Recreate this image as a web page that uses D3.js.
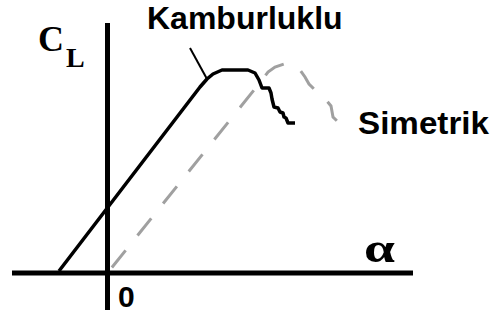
<!DOCTYPE html>
<html>
<head>
<meta charset="utf-8">
<script src="https://cdn.jsdelivr.net/npm/d3@7"></script>
<style>
    body { margin: 0; background: #fff; }
    svg { display: block; }
    .lbl { font-family: "Liberation Sans", Arial, sans-serif; font-weight: bold; fill: #000; }
    .sym { font-family: "Liberation Serif", "Times New Roman", serif; font-weight: bold; fill: #000; }
</style>
</head>
<body>
<div id="chart"></div>
<script>
// curve data: angle of attack (deg) vs lift coefficient
const cambAlpha = [-4.85, 9.25, 9.95, 10.55, 11.45, 14.05, 14.75, 15.15, 15.45, 16.15, 16.35, 16.45, 16.65, 17.05, 17.25, 17.55, 17.65, 17.85, 18.05, 18.75];
const cambCL    = [0.02, 1.86, 1.94, 1.99, 2.03, 2.03, 2.00, 1.93, 1.85, 1.85, 1.80, 1.74, 1.66, 1.65, 1.61, 1.60, 1.56, 1.55, 1.50, 1.50];

const symAlpha = [0, 15.45, 16.05, 16.75, 17.65, 18.55, 19.25, 19.75, 20.15, 20.65, 21.25, 21.85, 22.35, 22.55, 22.95, 23.45];
const symCL    = [0, 1.93, 2.01, 2.06, 2.09, 2.07, 2.03, 1.96, 1.89, 1.84, 1.78, 1.73, 1.67, 1.56, 1.52, 1.48];

const seriesNames = ["Kamburluklu", "Simetrik"];
const xAxisLabel = "\u03b1";
const yAxisLabel = "C";
const yAxisSub = "L";
const originLabel = "0";

let width = 492, height = 322;

let svg = d3.select("#chart").append("svg")
    .attr("width", width)
    .attr("height", height);

// scales (origin sits at 107.5, 273)
let x = d3.scaleLinear().domain([-10, 30]).range([7.5, 407.5]);
let y = d3.scaleLinear().domain([0, 2.5]).range([273, 23]);

let line = d3.line()
    .x(d => x(d[0]))
    .y(d => y(d[1]));

let cambered = cambAlpha.map((a, i) => [a, cambCL[i]]);
let symmetric = symAlpha.map((a, i) => [a, symCL[i]]);

// axes
svg.append("line")
    .attr("x1", x(-9.55)).attr("x2", x(30.55))
    .attr("y1", y(0)).attr("y2", y(0))
    .attr("stroke", "#000").attr("stroke-width", 5);

svg.append("line")
    .attr("x1", x(0)).attr("x2", x(0))
    .attr("y1", y(2.5)).attr("y2", y(-0.37))
    .attr("stroke", "#000").attr("stroke-width", 5);

// symmetric airfoil - grey dashed
svg.append("path")
    .datum(symmetric)
    .attr("fill", "none")
    .attr("stroke", "#a0a0a0")
    .attr("stroke-width", 3)
    .attr("stroke-dasharray", "22,19")
    .attr("stroke-dashoffset", -7)
    .attr("d", line);

// cambered airfoil - black
svg.append("path")
    .datum(cambered)
    .attr("fill", "none")
    .attr("stroke", "#000")
    .attr("stroke-width", 3.5)
    .attr("stroke-linejoin", "round")
    .attr("d", line);

// leader line for the label
svg.append("line")
    .attr("x1", x(8.25)).attr("y1", y(2.25))
    .attr("x2", x(9.95)).attr("y2", y(1.94))
    .attr("stroke", "#000").attr("stroke-width", 2);

// labels
svg.append("text")
    .attr("class", "lbl")
    .attr("x", 147).attr("y", 29)
    .attr("font-size", 32)
    .text(seriesNames[0]);

svg.append("text")
    .attr("class", "lbl")
    .attr("x", 358).attr("y", 134)
    .attr("font-size", 32)
    .attr("textLength", 131)
    .attr("lengthAdjust", "spacingAndGlyphs")
    .text(seriesNames[1]);

let cl = svg.append("text")
    .attr("class", "sym")
    .attr("x", 38).attr("y", 51);
cl.append("tspan").attr("font-size", 36).text(yAxisLabel);
cl.append("tspan").attr("font-size", 28).attr("dy", 16).attr("dx", 2).text(yAxisSub);

svg.append("text")
    .attr("class", "sym")
    .attr("x", 364).attr("y", 262)
    .attr("font-size", 42)
    .attr("textLength", 31)
    .attr("lengthAdjust", "spacingAndGlyphs")
    .text(xAxisLabel);

svg.append("text")
    .attr("class", "lbl")
    .attr("x", 118).attr("y", 307)
    .attr("font-size", 30)
    .text(originLabel);
</script>
</body>
</html>
